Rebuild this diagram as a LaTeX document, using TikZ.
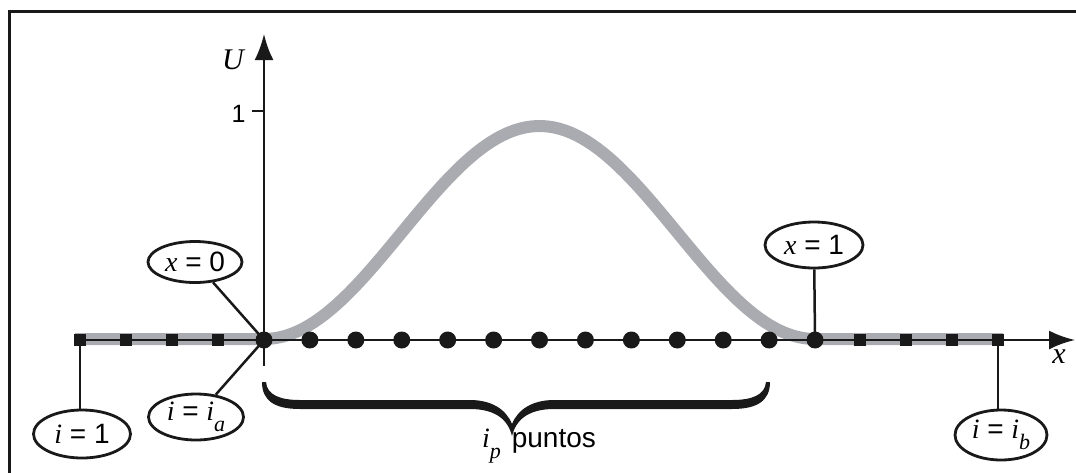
\documentclass[tikz,border=0pt]{standalone}
\usepackage{fontspec}
\setmainfont{Liberation Sans}
\newfontfamily\tmsfont{Liberation Serif}
\usetikzlibrary{arrows.meta,shapes.geometric}
\pgfdeclarelayer{bg}
\pgfsetlayers{bg,main}
\newcommand\vv[1]{{\tmsfont\itshape #1}}
\newcommand\sbs[1]{\raisebox{-0.7ex}{\fontsize{22}{22}\selectfont\tmsfont\itshape #1}}
\definecolor{curvegray}{RGB}{170,171,176}
\definecolor{ink}{RGB}{25,25,25}
\begin{document}
\begin{tikzpicture}[x=1pt,y=-1pt,
  lbl/.style={draw=ink, ellipse, line width=2.8pt, inner sep=0pt, font=\fontsize{28}{28}\selectfont},
  conn/.style={draw=ink, line width=2.5pt},
  dotp/.style={circle, fill=ink, inner sep=0pt, minimum size=17pt},
  sqp/.style={rectangle, fill=ink, inner sep=0pt, minimum size=12pt},
  bump/.style={draw=curvegray, line width=12pt},
  axisarrow/.style={conn, -{Latex[length=26pt,width=19pt]}}
  ]
\useasboundingbox (0,0) rectangle (1076,472);
% frame
\draw[line width=3pt, ink] (9,473) -- (9,11) -- (1077,11);

% grid points
\foreach \k/\xx in {1/80,2/126,3/172,4/218} {\node[sqp] (sL\k) at (\xx,340) {};}
\foreach \k/\xx in {1/860,2/906,3/952,4/998} {\node[sqp] (sR\k) at (\xx,340) {};}
\foreach \k in {0,...,12} {\node[dotp] (d\k) at ({264+45.92*\k},340) {};}

% axes
\coordinate (xtip) at (1075,340);
\coordinate (ybot) at (264,366);
\coordinate (ytip) at (264,34);
\coordinate (tickL) at (252,111);
\coordinate (tickR) at (264,111);

\begin{pgfonlayer}{bg}
\draw[bump] (75,339) -- (264,339)
  plot[domain=0:360, samples=100] ({264+\x*1.53056}, {339-106.5*(1-cos(\x))})
  -- (1003,339);
\draw[axisarrow] (sL1.center) -- (xtip);
\draw[axisarrow] (ybot) -- (ytip);
\draw[conn] (tickL) -- (tickR);
\end{pgfonlayer}

\node[font=\fontsize{30}{30}\selectfont] (Ulbl) at (233,60) {\vv{U}};
\node[font=\fontsize{30}{30}\selectfont] (xlbl) at (1059,357) {\vv{x}};
\node[font=\fontsize{25}{25}\selectfont, anchor=east] (onelbl) at (249,114) {1};

% labels
\node[lbl, minimum width=94pt, minimum height=41pt] (lx0) at (195,262) {\vv{x} = 0};
\node[lbl, minimum width=95pt, minimum height=46pt] (lia) at (196,417) {\vv{i} = \vv{i}\sbs{a}};
\node[lbl, minimum width=97pt, minimum height=48pt] (li1) at (82,434) {\vv{i} = 1};
\node[lbl, minimum width=98pt, minimum height=46pt] (lx1) at (814,245) {\vv{x} = 1};
\node[lbl, minimum width=92pt, minimum height=50pt] (lib) at (1001,435) {\vv{i} = \vv{i}\sbs{b}};

\begin{pgfonlayer}{bg}
\draw[conn] (lx0) -- (d0.center);
\draw[conn] (lia) -- (d0.center);
\draw[conn] (sL1.center) -- (sL1.center |- li1.north);
\draw[conn] (lx1) -- (d12.center);
\draw[conn] (sR4.center) -- (sR4.center |- lib.north);
\end{pgfonlayer}

% brace
\fill[ink] (262,382) .. controls (262,401) and (275,409) .. (300,409)
  -- (470,409) .. controls (496,409) and (508,420) .. (512,436)
  .. controls (516,420) and (528,409) .. (554,409)
  -- (732,409) .. controls (757,409) and (770,401) .. (770,382)
  -- (766,382) .. controls (765,395) and (752,400) .. (732,400)
  -- (554,400) .. controls (533,400) and (518,409) .. (512,424)
  .. controls (506,409) and (491,400) .. (470,400)
  -- (300,400) .. controls (280,400) and (267,395) .. (266,382) -- cycle;

\node[font=\fontsize{28}{28}\selectfont] (ipl) at (539,446) {\vv{i}\sbs{p}\kern 11pt puntos};
\end{tikzpicture}
\end{document}
